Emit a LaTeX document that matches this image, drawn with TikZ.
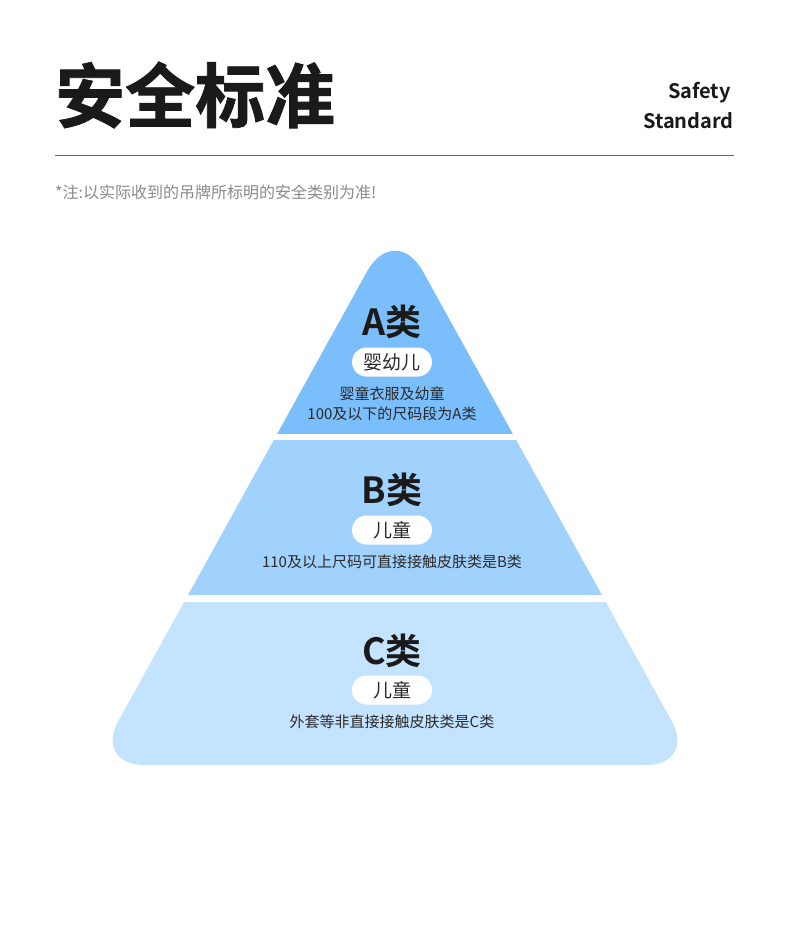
\documentclass[tikz,border=0pt]{standalone}
\usepackage{fontspec}
\setmainfont{Noto Sans CJK SC}[BoldFont={* Bold}]
\newfontfamily\titlefont{Noto Sans CJK SC}[BoldFont={* Bold},FakeBold=1.2]
\definecolor{tierA}{HTML}{7BBEFC}
\definecolor{tierB}{HTML}{A1D1FD}
\definecolor{tierC}{HTML}{C4E3FE}
\definecolor{inkdark}{HTML}{1A1A1A}
\definecolor{inktext}{HTML}{2A2A2A}
\definecolor{notegray}{HTML}{8A8A8A}
\definecolor{rulegray}{HTML}{666666}
\tikzset{
  tiertitle/.style={font=\bfseries\fontsize{36}{36}\selectfont, text=inkdark, inner sep=0pt},
  pill/.style={fill=white, rounded corners=14.5pt, minimum width=80pt, minimum height=29pt, inner sep=0pt,
     font=\fontsize{19}{19}\selectfont, text=inktext},
  desc/.style={font=\fontsize{15}{19.5}\selectfont, text=inktext, align=center, inner sep=0pt},
}
\begin{document}
\begin{tikzpicture}[x=1pt,y=-1pt]
\useasboundingbox (0,0) rectangle (790,944);
\fill[white] (0,0) rectangle (790,944);
% header
\node[anchor=west, inner sep=0pt, text=inkdark, font=\titlefont\bfseries\fontsize{70}{70}\selectfont] (title) at (55,95) {安全标准};
\node[anchor=east, inner sep=0pt, text=inkdark, font=\bfseries\fontsize{20}{20}\selectfont] (safety) at (731,93) {Safety};
\node[anchor=east, inner sep=0pt, text=inkdark, font=\bfseries\fontsize{20}{20}\selectfont] (standard) at (734,121) {Standard};
\coordinate (ruleL) at (55,156);
\coordinate (ruleR) at (734,156);
\draw[rulegray, line width=1pt] (ruleL) -- (ruleR);
\node[anchor=west, inner sep=0pt, text=notegray, font=\fontsize{16}{16}\selectfont] (note) at (55,192) {*注:以实际收到的吊牌所标明的安全类别为准!};
% pyramid
\begin{scope}
\clip (395,765) [rounded corners=50pt] -- (94,765) [rounded corners=58pt] -- (395,221) [rounded corners=50pt] -- (696,765) -- cycle;
\fill[tierA] (0,200) rectangle (790,434);
\fill[tierB] (0,440) rectangle (790,595);
\fill[tierC] (0,602) rectangle (790,780);
\end{scope}
% tier A
\node[tiertitle] (atitle) at (392,322) {A类};
\node[pill] (apill) at (392,362) {婴幼儿};
\node[desc] (adesc) at (392,404) {婴童衣服及幼童\\100及以下的尺码段为A类};
% tier B
\node[tiertitle] (btitle) at (392,490) {B类};
\node[pill] (bpill) at (392,530) {儿童};
\node[desc] (bdesc) at (392,562) {110及以上尺码可直接接触皮肤类是B类};
% tier C
\node[tiertitle] (ctitle) at (392,651) {C类};
\node[pill] (cpill) at (392,690) {儿童};
\node[desc] (cdesc) at (392,722) {外套等非直接接触皮肤类是C类};
\end{tikzpicture}
\end{document}
